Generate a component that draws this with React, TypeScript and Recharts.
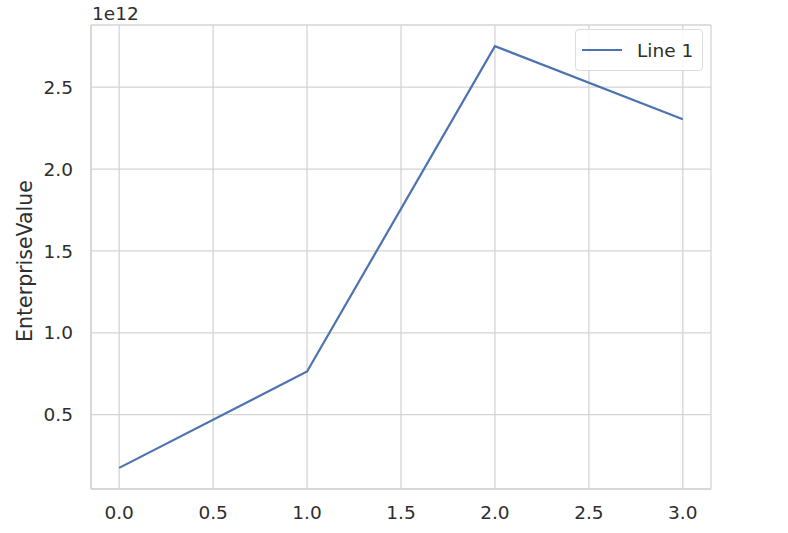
import { LineChart, Line, XAxis, YAxis, CartesianGrid, Legend } from 'recharts';

const xValues = [0, 1, 2, 3];
const enterpriseValues = [0.175e12, 0.764e12, 2.751e12, 2.304e12];
const xTicks = [0, 0.5, 1, 1.5, 2, 2.5, 3];
const yTicks = [0.5e12, 1.0e12, 1.5e12, 2.0e12, 2.5e12];
const seriesName = 'Line 1';

const data = xValues.map((x, i) => ({ x, value: enterpriseValues[i] }));

const FONT = '"DejaVu Sans", sans-serif';
const TEXT = '#2e2e2e';
const GRID = '#d4d4d4';
const LINE = '#4c72b0';

function LegendBox() {
  return (
    <div
      style={{
        display: 'inline-flex',
        alignItems: 'center',
        boxSizing: 'border-box',
        width: 128,
        height: 42,
        border: '1px solid #dcdcdc',
        borderRadius: 4,
        background: 'rgba(255,255,255,0.85)',
        padding: '0 0 0 6px',
        fontFamily: FONT,
        fontSize: 18.5,
        color: TEXT,
      }}
    >
      <svg width={40} height={4} style={{ marginRight: 15 }}>
        <line x1={0} y1={2} x2={40} y2={2} stroke={LINE} strokeWidth={2.2} />
      </svg>
      <span>{seriesName}</span>
    </div>
  );
}

export default function App() {
  return (
    <div style={{ position: 'absolute', left: 0, top: 0, background: '#fff' }}>
      <LineChart
        width={788}
        height={533}
        data={data}
        margin={{ top: 25, right: 77, bottom: 0, left: 0 }}
      >
        <CartesianGrid stroke={GRID} strokeWidth={1.3} vertical horizontal />
        <XAxis
          dataKey="x"
          type="number"
          domain={[-0.15, 3.15]}
          ticks={xTicks}
          tickFormatter={(v: number) => v.toFixed(1)}
          tickLine={false}
          tickSize={0}
          tickMargin={17}
          height={44}
          axisLine={{ stroke: GRID, strokeWidth: 1.5 }}
          tick={{ fill: TEXT, fontSize: 18.5, fontFamily: FONT }}
          interval={0}
        />
        <XAxis
          xAxisId="top"
          dataKey="x"
          type="number"
          orientation="top"
          domain={[-0.15, 3.15]}
          tick={false}
          tickLine={false}
          height={0}
          axisLine={{ stroke: GRID, strokeWidth: 1.5 }}
        />
        <YAxis
          type="number"
          domain={[0.046e12, 2.88e12]}
          ticks={yTicks}
          tickFormatter={(v: number) => (v / 1e12).toFixed(1)}
          tickLine={false}
          tickSize={0}
          tickMargin={18}
          width={91}
          axisLine={{ stroke: GRID, strokeWidth: 1.5 }}
          tick={{ fill: TEXT, fontSize: 18.5, fontFamily: FONT }}
          interval={0}
          label={{
            content: () => (
              <g>
                <text
                  x={25}
                  y={261}
                  transform="rotate(-90, 25, 261)"
                  textAnchor="middle"
                  dominantBaseline="central"
                  fill={TEXT}
                  fontSize={20.5}
                  fontFamily={FONT}
                >
                  EnterpriseValue
                </text>
                <text x={92} y={20} fill={TEXT} fontSize={18.5} fontFamily={FONT}>
                  1e12
                </text>
              </g>
            ),
          }}
        />
        <YAxis
          yAxisId="right"
          orientation="right"
          type="number"
          domain={[0.046e12, 2.88e12]}
          tick={false}
          tickLine={false}
          width={0}
          axisLine={{ stroke: GRID, strokeWidth: 1.5 }}
        />
        <Legend
          content={() => <LegendBox />}
          layout="horizontal"
          align="center"
          verticalAlign="middle"
          wrapperStyle={{ top: 29, left: 575, width: 'auto', height: 'auto' }}
        />
        <Line
          type="linear"
          dataKey="value"
          name={seriesName}
          stroke={LINE}
          strokeWidth={2.2}
          dot={false}
          activeDot={false}
          isAnimationActive={false}
        />
      </LineChart>
    </div>
  );
}
